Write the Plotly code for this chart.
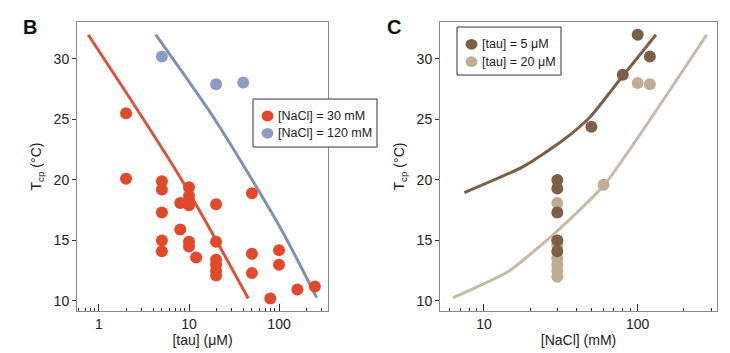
import plotly.graph_objects as go

# ---- Panel B data: Tcp vs [tau] ----
tau_nacl30 = [2, 2, 5, 5, 5, 5, 5, 8, 8, 10, 10, 10, 10, 10, 10, 12,
              20, 20, 20, 20, 20, 20, 50, 50, 50, 80, 100, 100, 160, 250]
tcp_nacl30 = [25.5, 20.1, 19.9, 19.2, 17.3, 15.0, 14.1, 18.1, 15.9, 19.4, 18.7, 18.3, 17.9, 14.9, 14.5, 13.6,
              18.0, 14.9, 13.4, 13.0, 12.5, 12.1, 18.9, 13.9, 12.3, 10.2, 14.2, 13.0, 10.95, 11.2]
tau_nacl120 = [5, 20, 40]
tcp_nacl120 = [30.2, 27.9, 28.05]

fit30_tau = [0.76, 8, 45.6]
fit30_tcp = [32.0, 20.2, 10.2]
fit120_tau = [4.27, 18.6, 47.6, 111.6, 262]
fit120_tcp = [32.0, 25.2, 20.3, 15.6, 10.27]

# ---- Panel C data: Tcp vs [NaCl] ----
nacl_tau5 = [30, 30, 30, 30, 30, 50, 80, 100, 120]
tcp_tau5 = [20.0, 19.3, 17.3, 15.0, 14.1, 24.4, 28.7, 32.0, 30.2]
nacl_tau20 = [30, 30, 30, 30, 30, 30, 30, 60, 100, 120]
tcp_tau20 = [18.1, 15.0, 14.6, 13.5, 13.0, 12.5, 12.0, 19.6, 28.0, 27.9]

fit5_nacl = [7.45, 18.0, 32.8, 49, 76.7, 131.5]
fit5_tcp = [18.95, 21.1, 23.3, 25.2, 28.3, 32.0]
fit20_nacl = [6.31, 14.4, 29.7, 60.7, 281]
fit20_tcp = [10.27, 12.43, 15.73, 19.6, 32.0]

# tick labels
ticks_tau = [1, 10, 100]
minor_tau = [0.6, 0.7, 0.8, 0.9, 2, 3, 4, 5, 6, 7, 8, 9, 20, 30, 40, 50, 60, 70, 80, 90, 200, 300]
ticks_nacl = [10, 100]
minor_nacl = [6, 7, 8, 9, 20, 30, 40, 50, 60, 70, 80, 90, 200, 300]
ticks_tcp = [10, 15, 20, 25, 30]

legB = ["[NaCl] = 30 mM", "[NaCl] = 120 mM"]
legC = ["[tau] = 5 μM", "[tau] = 20 μM"]

RED, BLUE = "#E2492B", "#8C9CC4"
RED_L, BLUE_L = "#D6553B", "#8090B2"
DARK, LIGHT = "#7C5F46", "#C0AC95"
DARK_L, LIGHT_L = "#7A6049", "#C7B9A4"

FONT = "Liberation Sans, Arial, sans-serif"
W, H = 730, 353

fig = go.Figure()
# lines
fig.add_trace(go.Scatter(x=fit30_tau, y=fit30_tcp, mode="lines",
                         line=dict(color=RED_L, width=3, shape="spline", smoothing=0.8),
                         showlegend=False, xaxis="x", yaxis="y"))
fig.add_trace(go.Scatter(x=fit120_tau, y=fit120_tcp, mode="lines",
                         line=dict(color=BLUE_L, width=3, shape="spline", smoothing=0.8),
                         showlegend=False, xaxis="x", yaxis="y"))
fig.add_trace(go.Scatter(x=fit5_nacl, y=fit5_tcp, mode="lines",
                         line=dict(color=DARK_L, width=3, shape="spline", smoothing=0.6),
                         showlegend=False, xaxis="x2", yaxis="y2"))
fig.add_trace(go.Scatter(x=fit20_nacl, y=fit20_tcp, mode="lines",
                         line=dict(color=LIGHT_L, width=3, shape="spline", smoothing=0.5),
                         showlegend=False, xaxis="x2", yaxis="y2"))
# points
fig.add_trace(go.Scatter(x=tau_nacl30, y=tcp_nacl30, mode="markers", name=legB[0],
                         marker=dict(color=RED, size=12), xaxis="x", yaxis="y", showlegend=False))
fig.add_trace(go.Scatter(x=tau_nacl120, y=tcp_nacl120, mode="markers", name=legB[1],
                         marker=dict(color=BLUE, size=12), xaxis="x", yaxis="y", showlegend=False))
fig.add_trace(go.Scatter(x=nacl_tau20, y=tcp_tau20, mode="markers", name=legC[1],
                         marker=dict(color=LIGHT, size=12), xaxis="x2", yaxis="y2", showlegend=False))
fig.add_trace(go.Scatter(x=nacl_tau5, y=tcp_tau5, mode="markers", name=legC[0],
                         marker=dict(color=DARK, size=12), xaxis="x2", yaxis="y2", showlegend=False))

common_x = dict(type="log", showgrid=False, zeroline=False, showline=True, linecolor="#8a8a8a",
                linewidth=1, mirror=True, ticks="inside", ticklen=7, tickcolor="#333",
                tickfont=dict(size=14, color="#222"),
                title=dict(font=dict(size=14, color="#222"), standoff=4))
common_y = dict(showgrid=False, zeroline=False, showline=True, linecolor="#8a8a8a", linewidth=1,
                mirror=True, ticks="outside", ticklen=4, tickcolor="#333",
                tickvals=ticks_tcp, tickfont=dict(size=14, color="#222"),
                range=[9.17, 33.05],
                title=dict(text="T<sub>cp</sub> (°C)", font=dict(size=14, color="#222"), standoff=8))


def px(x):
    return x / W


def py(y):
    return 1 - y / H


ydom = [py(311), py(22)]
shapes = []
annotations = [
    dict(text="<b>B</b>", x=px(30), y=py(27), xref="paper", yref="paper",
         showarrow=False, font=dict(size=20, color="#111"), xanchor="center", yanchor="middle"),
    dict(text="<b>C</b>", x=px(394), y=py(27), xref="paper", yref="paper",
         showarrow=False, font=dict(size=20, color="#111"), xanchor="center", yanchor="middle"),
]


def add_legend(box, rows, labels, colors):
    x0, y0, x1, y1 = box
    shapes.append(dict(type="rect", xref="paper", yref="paper", x0=px(x0), x1=px(x1),
                       y0=py(y1), y1=py(y0), line=dict(color="#333", width=1), fillcolor="white",
                       layer="above"))
    for (mx, my), lab, col in zip(rows, labels, colors):
        r = 6
        shapes.append(dict(type="circle", xref="paper", yref="paper", x0=px(mx - r), x1=px(mx + r),
                           y0=py(my + r * 0.9), y1=py(my - r * 0.9), fillcolor=col, line=dict(width=0),
                           layer="above"))
        annotations.append(dict(text=lab, x=px(mx + 8.5), y=py(my), xref="paper", yref="paper",
                                showarrow=False, xanchor="left", yanchor="middle",
                                font=dict(size=12.5, color="#222")))


add_legend((253, 99, 377, 147), [(267.5, 116), (267.5, 133.3)], legB, [RED, BLUE])
add_legend((457, 27, 561, 75), [(471.5, 44.3), (471.5, 61.7)], legC, [DARK, LIGHT])

fig.update_layout(
    width=W, height=H, margin=dict(l=0, r=0, t=0, b=0),
    paper_bgcolor="white", plot_bgcolor="white",
    font=dict(family=FONT, color="#222"),
    showlegend=False,
    xaxis=dict(common_x, domain=[px(77), px(328)], range=[-0.244, 2.544],
               tickvals=ticks_tau, ticktext=[str(t) for t in ticks_tau],
               minor=dict(ticks="inside", ticklen=3, tickcolor="#333", showgrid=False,
                          tickmode="array", tickvals=minor_tau),
               title=dict(common_x["title"], text="[tau] (μM)")),
    yaxis=dict(common_y, domain=ydom, anchor="x"),
    xaxis2=dict(common_x, domain=[px(440), px(717)], range=[0.714, 2.516], anchor="y2",
                tickvals=ticks_nacl, ticktext=[str(t) for t in ticks_nacl],
                minor=dict(ticks="inside", ticklen=3, tickcolor="#333", showgrid=False,
                           tickmode="array", tickvals=minor_nacl),
                title=dict(common_x["title"], text="[NaCl] (mM)")),
    yaxis2=dict(common_y, domain=ydom, anchor="x2"),
    shapes=shapes,
    annotations=annotations,
)

fig.write_html("out.html")
